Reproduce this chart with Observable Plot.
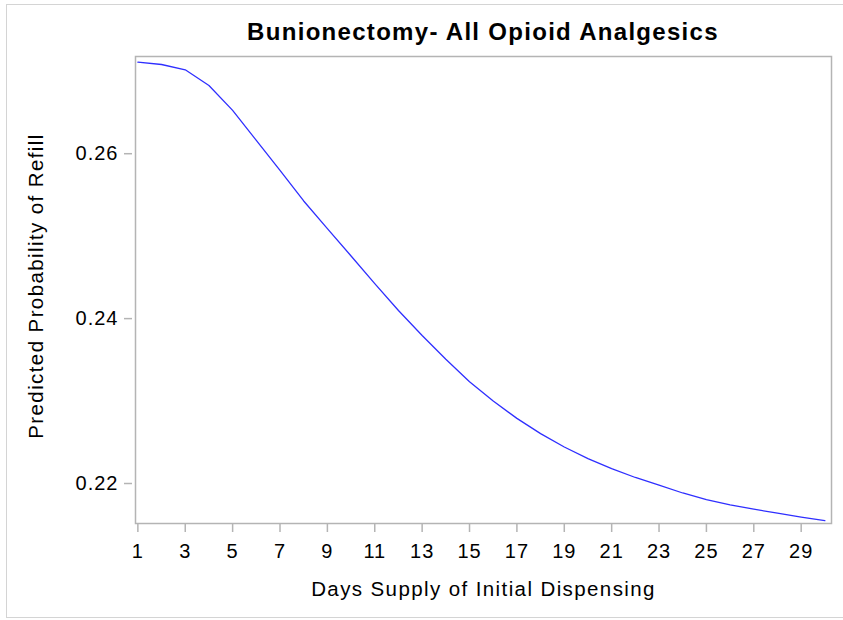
<!DOCTYPE html>
<html>
<head>
<meta charset="utf-8">
<script src="https://cdn.jsdelivr.net/npm/d3@7"></script>
<script src="https://cdn.jsdelivr.net/npm/@observablehq/plot@0.6"></script>
<style>
  html, body { margin: 0; padding: 0; background: #fff; overflow: hidden; }
  #wrap { position: relative; width: 843px; height: 620px; overflow: hidden; }
  #border { position: absolute; left: 6px; top: 4px; width: 900px; height: 614px; border: 1px solid #d4d4d4; box-sizing: border-box; }
  #title { position: absolute; left: 135px; width: 696px; top: 18px; text-align: center;
           font-family: "Liberation Sans", Arial, sans-serif; font-weight: bold; font-size: 24px;
           letter-spacing: 1.3px; color: #000; line-height: 28px; }
  #chart { position: absolute; left: 0; top: 0; }
</style>
</head>
<body>
<div id="wrap">
  <div id="border"></div>
  <div id="chart"></div>
  <div id="title">Bunionectomy- All Opioid Analgesics</div>
</div>
<script>
const days = [1,2,3,4,5,6,7,8,9,10,11,12,13,14,15,16,17,18,19,20,21,22,23,24,25,26,27,28,29,30];
const probability = [0.27110,0.27082,0.27018,0.26828,0.26525,0.26161,0.25798,0.25427,0.25092,0.24759,
                     0.24425,0.24098,0.23795,0.23508,0.23234,0.23000,0.22790,0.22605,0.22443,0.22302,
                     0.22180,0.22073,0.21980,0.21885,0.21805,0.21742,0.21688,0.21640,0.21593,0.21550];
const xTicks = [1,3,5,7,9,11,13,15,17,19,21,23,25,27,29];
const yTicks = [0.22,0.24,0.26];
const xLabel = "Days Supply of Initial Dispensing";
const yLabel = "Predicted Probability of Refill";

const data = days.map((d, i) => ({day: d, p: probability[i]}));

const chart = Plot.plot({
  width: 843,
  height: 620,
  marginLeft: 135,
  marginRight: 12,
  marginTop: 56,
  marginBottom: 97,
  style: {fontFamily: "'Liberation Sans', Arial, sans-serif", fontSize: "20px", color: "#000", background: "transparent"},
  x: {domain: [0.9, 30.28]},
  y: {domain: [0.21515, 0.27179]},
  marks: [
    Plot.frame({stroke: "#b4b4b4", strokeWidth: 1.5}),
    Plot.axisX({ticks: xTicks, tickSize: 9, tickPadding: 11, stroke: "#b4b4b4", strokeWidth: 1.5,
                tickFormat: d => String(d), label: null, fill: "#000", fontSize: 20}),
    Plot.axisY({ticks: yTicks, tickSize: 8, dx: -3, tickPadding: 6, stroke: "#b4b4b4", strokeWidth: 1.5,
                tickFormat: d => d.toFixed(2), label: null, fill: "#000", fontSize: 20}),
    Plot.text([xLabel], {frameAnchor: "bottom", dy: 72, fontSize: 20.5, fill: "#000"}),
    Plot.text([yLabel], {frameAnchor: "left", textAnchor: "middle", dx: -99, dy: -4, rotate: -90, fontSize: 20.5, fill: "#000"}),
    Plot.line(data, {x: "day", y: "p", stroke: "#2f2fff", strokeWidth: 1.3})
  ]
});
d3.select(chart).selectAll("g[aria-label='x-axis tick label'] text, g[aria-label='y-axis tick label'] text")
  .style("letter-spacing", "1px");
d3.select(chart).selectAll("g[aria-label='text'] text")
  .style("letter-spacing", "1.4px");
document.getElementById("chart").appendChild(chart);
</script>
</body>
</html>
